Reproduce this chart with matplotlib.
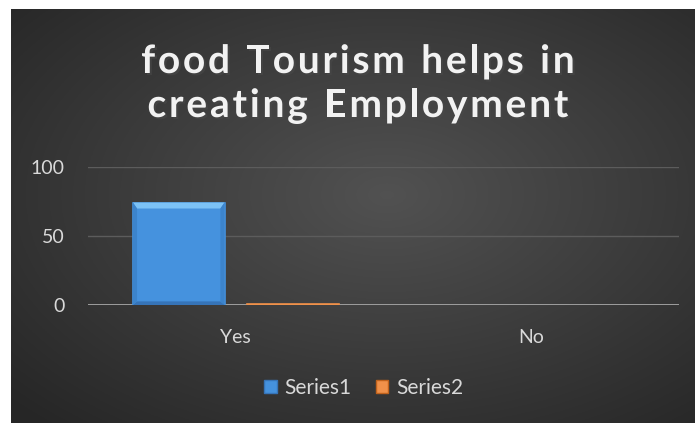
import numpy as np
import matplotlib.pyplot as plt
from matplotlib.patches import Patch, Polygon
import matplotlib.patheffects as pe

# chart data
categories = ["Yes", "No"]
series1 = [74, 0]
series2 = [1, 0]
series_names = ["Series1", "Series2"]
yticks = [0, 50, 100]
title_lines = ["food Tourism helps in", "creating Employment"]

W, H = 695, 423
fig = plt.figure(figsize=(W / 100, H / 100), dpi=100, facecolor="white")

# dark radial backdrop
bg = fig.add_axes([11 / W, 0, 1 - 11 / W, 1 - 9 / H], zorder=0)
gx, gy = np.meshgrid(np.linspace(0, 1, 400), np.linspace(0, 1, 300))
r = np.sqrt(((gx - 0.55) / 0.75) ** 2 + ((gy - 0.55) / 0.75) ** 2)
shade = np.clip(0.32 - 0.17 * r, 0.15, 0.32)
bg.imshow(np.dstack([shade] * 3), aspect="auto", extent=[0, 1, 0, 1], origin="lower")
bg.axis("off")

font = "Lato"
txt = "#d9d9d9"
renderer = fig.canvas.get_renderer()


def spaced_text(s, xc, yc, spacing, **kw):
    # matplotlib has no letter spacing, so lay the characters out one by one
    widths = []
    for ch in s:
        t = fig.text(0, 0, ch if ch != " " else "a", **kw)
        w = t.get_window_extent(renderer).width
        t.remove()
        widths.append(w * (0.55 if ch == " " else 1.0))
    total = sum(widths) + spacing * (len(s) - 1)
    xpx = xc * W - total / 2
    for ch, w in zip(s, widths):
        if ch != " ":
            fig.text(xpx / W, yc, ch, ha="left", va="baseline", **kw)
        xpx += w + spacing


shadow = [pe.SimplePatchShadow(offset=(1.5, -1.5), alpha=0.6), pe.Normal()]
for line, ybase in zip(title_lines, [73, 117]):
    spaced_text(line, 0.515, 1 - ybase / H, 2.8, fontsize=28, fontweight="bold",
                color="#f2f2f2", family=font, path_effects=shadow)

ax = fig.add_axes([88 / W, 1 - 305 / H, 591 / W, 138.5 / H], zorder=1)
ax.set_facecolor("none")
x = np.arange(len(categories))
bw = 0.31
off = 0.193


def bevel_bar(xc, vals, face, light, dark, side):
    bars = ax.bar(xc, vals, width=bw, color=face, zorder=6)
    for b in bars:
        x0, y0, w, h = b.get_x(), b.get_y(), b.get_width(), b.get_height()
        if h <= 0:
            continue
        b.set_edgecolor(face)
        b.set_linewidth(1.2)
        if h <= 2:
            continue
        dx = w * 0.045
        dy = min(h * 0.3, 6 / 1.385)
        x1, y1 = x0 + w, y0 + h
        ax.add_patch(Polygon([(x0, y1), (x1, y1), (x1 - dx, y1 - dy), (x0 + dx, y1 - dy)],
                             color=light, zorder=7, lw=0))
        ax.add_patch(Polygon([(x0, y0), (x1, y0), (x1 - dx, y0 + dy * 0.6), (x0 + dx, y0 + dy * 0.6)],
                             color=dark, zorder=7, lw=0))
        ax.add_patch(Polygon([(x0, y0), (x0 + dx, y0 + dy * 0.6), (x0 + dx, y1 - dy), (x0, y1)],
                             color=side, zorder=7, lw=0))
        ax.add_patch(Polygon([(x1, y0), (x1 - dx, y0 + dy * 0.6), (x1 - dx, y1 - dy), (x1, y1)],
                             color=side, zorder=7, lw=0))


bevel_bar(x - off, series1, "#4592de", "#7cc2f6", "#3674b8", "#3c84cc")
bevel_bar(x + off, series2, "#f0914a", "#f8b070", "#c0621c", "#dd7a30")

ax.set_xlim(-0.5, 1.5)
ax.set_ylim(0, 100)
ax.set_yticks(yticks)
ax.set_xticks(x)
ax.set_xticklabels(categories)
ax.grid(axis="y", color="#5c5c5c", lw=1, zorder=1)
ax.axhline(0, color="#a6a6a6", lw=2, zorder=5)
for s in ax.spines.values():
    s.set_visible(False)
ax.tick_params(length=0, colors=txt, labelsize=14)
ax.tick_params(axis="y", pad=17)
ax.tick_params(axis="x", pad=17)
for lab in ax.get_xticklabels() + ax.get_yticklabels():
    lab.set_family(font)

handles = [Patch(facecolor="#4592de", edgecolor="#3674b8"),
           Patch(facecolor="#f0914a", edgecolor="#c0621c")]
fig.legend(handles, series_names, loc="center", bbox_to_anchor=(0.523, 1 - 388 / H),
           ncol=2, frameon=False, labelcolor=txt, prop={"family": font, "size": 15},
           handlelength=0.6, handleheight=0.6, handletextpad=0.35, columnspacing=1.2)

fig.savefig("out.png", dpi=100)
